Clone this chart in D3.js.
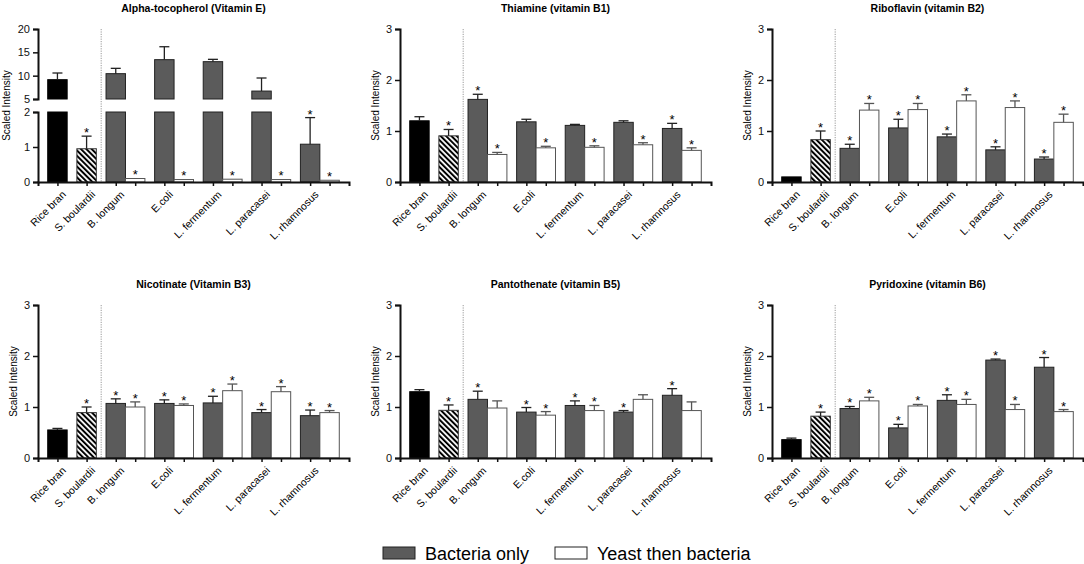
<!DOCTYPE html>
<html>
<head>
<meta charset="utf-8">
<script src="https://cdn.jsdelivr.net/npm/d3@7"></script>
<style>
    body { margin: 0; background: #fff; }
    svg { font-family: "Liberation Sans", Arial, sans-serif; }
    .axis path { stroke: #111; stroke-width: 2; }
    .axis line { stroke: #111; stroke-width: 1.5; }
    .axis text { font-size: 11px; fill: #111; }
    .title { font-size: 10.5px; font-weight: bold; text-anchor: middle; }
    .ylabel { font-size: 10px; text-anchor: middle; }
    .cat { font-size: 10.5px; }
    .star { font-size: 13px; text-anchor: middle; }
    .sep { stroke: #999; stroke-width: 1; stroke-dasharray: 1.2, 1.2; }
</style>
</head>
<body>
<svg id="chart"></svg>
<script>
/**********************************************
 *
 * vitamin panels
 *
 **********************************************/
const width = 1084
const height = 564

const groups = ["Rice bran", "S. boulardii", "B. longum", "E.coli", "L. fermentum", "L. paracasei", "L. rhamnosus"]
// bar order: rice bran, S. boulardii, then bacteria only / yeast then bacteria per strain
const barKind = ["rice", "yeast", "bact", "coc", "bact", "coc", "bact", "coc", "bact", "coc", "bact", "coc"]
const barGroup = [0, 1, 2, 2, 3, 3, 4, 4, 5, 5, 6, 6]
const yTicks = [0, 1, 2, 3]
const yTicksLow = [0, 1, 2]
const yTicksHigh = [5, 10, 15, 20]
const legendLabels = ["Bacteria only", "Yeast then bacteria"]
const titles = ["Alpha-tocopherol (Vitamin E)", "Thiamine (vitamin B1)", "Riboflavin (vitamin B2)",
    "Nicotinate (Vitamin B3)", "Pantothenate (vitamin B5)", "Pyridoxine (vitamin B6)"]

// rows: [mean, top of error bar, significant]
const vitE = [[9.14, 10.57, 0], [0.95, 1.31, 1], [10.43, 11.57, 0], [0.10, 0.11, 1], [13.43, 16.2, 0], [0.07, 0.08, 1],
    [13.0, 13.5, 0], [0.08, 0.09, 1], [6.7, 9.5, 0], [0.07, 0.08, 1], [1.08, 1.84, 1], [0.05, 0.06, 1]]
const vitB1 = [[1.20, 1.28, 0], [0.905, 1.03, 1], [1.62, 1.72, 1], [0.54, 0.58, 1], [1.18, 1.23, 0], [0.67, 0.70, 1],
    [1.11, 1.13, 0], [0.68, 0.71, 1], [1.17, 1.20, 0], [0.73, 0.77, 1], [1.05, 1.15, 1], [0.62, 0.67, 1]]
const vitB2 = [[0.10, 0.10, 0], [0.83, 1.0, 1], [0.66, 0.74, 1], [1.41, 1.54, 1], [1.06, 1.23, 1], [1.42, 1.54, 1],
    [0.885, 0.94, 1], [1.59, 1.71, 1], [0.63, 0.69, 1], [1.46, 1.59, 1], [0.45, 0.49, 1], [1.17, 1.33, 1]]
const vitB3 = [[0.55, 0.58, 0], [0.89, 1.0, 1], [1.07, 1.16, 1], [1.0, 1.10, 1], [1.07, 1.14, 1], [1.03, 1.06, 1],
    [1.08, 1.21, 1], [1.32, 1.45, 1], [0.89, 0.95, 1], [1.30, 1.40, 1], [0.83, 0.94, 1], [0.89, 0.93, 1]]
const vitB5 = [[1.30, 1.34, 0], [0.935, 1.04, 1], [1.15, 1.31, 1], [0.98, 1.12, 0], [0.90, 0.99, 1], [0.84, 0.91, 1],
    [1.03, 1.12, 1], [0.93, 1.03, 1], [0.90, 0.93, 1], [1.15, 1.24, 0], [1.23, 1.36, 1], [0.93, 1.10, 0]]
const vitB6 = [[0.36, 0.39, 0], [0.82, 0.90, 1], [0.97, 1.01, 1], [1.12, 1.19, 1], [0.59, 0.66, 1], [1.02, 1.05, 1],
    [1.13, 1.24, 1], [1.05, 1.15, 1], [1.92, 1.94, 1], [0.95, 1.05, 1], [1.78, 1.97, 1], [0.91, 0.95, 1]]

const panelData = [vitE, vitB1, vitB2, vitB3, vitB5, vitB6]

// layout
const plotW = 311
const colX = [38, 400, 772]
const rowY = [{ top: 29, bottom: 182 }, { top: 305, bottom: 458 }]
const fills = { rice: "#000", yeast: "url(#hatch)", bact: "#5b5b5b", coc: "#fff" }
const strokes = { rice: "#000", yeast: "#333", bact: "#222", coc: "#555" }

const chart = d3.select('#chart')
    .attr('width', width)
    .attr('height', height)

const defs = chart.append('defs')
const hatch = defs.append('pattern')
    .attr('id', 'hatch')
    .attr('patternUnits', 'userSpaceOnUse')
    .attr('width', 3.8)
    .attr('height', 3.8)
    .attr('patternTransform', 'rotate(-45)')
hatch.append('rect').attr('width', 3.8).attr('height', 3.8).attr('fill', '#fff')
hatch.append('rect').attr('width', 2).attr('height', 3.8).attr('fill', '#000')

// bar start in "bar widths": one per bar plus half a bar between groups
const barStart = i => 0.5 + i + barGroup[i] * 0.5

function drawPanel(p) {
    const rows = panelData[p]
    const left = colX[p % 3]
    const { top, bottom } = rowY[Math.floor(p / 3)]
    const g = chart.append('g').attr('transform', `translate(${left}, 0)`)
    const xScale = d3.scaleLinear().domain([0, 16]).range([0, plotW])

    // y scales; the first panel has a broken axis
    let segs
    if (p === 0) {
        segs = [
            { scale: d3.scaleLinear().domain([0, 2]).range([bottom, bottom - 70]), ticks: yTicksLow },
            { scale: d3.scaleLinear().domain([5, 20]).range([top + 70, top]), ticks: yTicksHigh }
        ]
    } else {
        segs = [{ scale: d3.scaleLinear().domain([0, 3]).range([bottom, top]), ticks: yTicks }]
    }

    // separator after the controls
    g.append('line').attr('class', 'sep')
        .attr('x1', xScale(3.25)).attr('x2', xScale(3.25))
        .attr('y1', top).attr('y2', bottom)

    // bars
    rows.forEach((r, i) => {
        const kind = barKind[i]
        const x0 = xScale(barStart(i))
        const bw = xScale(1) - xScale(0)
        const xc = x0 + bw / 2
        let errY, meanY
        segs.forEach(s => {
            const [d0, d1] = s.scale.domain()
            if (r[0] <= d0) return
            const v = Math.min(r[0], d1)
            g.append('rect')
                .attr('x', x0).attr('width', bw)
                .attr('y', s.scale(v)).attr('height', s.scale(d0) - s.scale(v))
                .attr('fill', fills[kind])
                .attr('stroke', strokes[kind])
                .attr('stroke-width', 1)
            if (r[0] <= d1) meanY = s.scale(r[0])
            if (r[1] > d0 && r[1] <= d1) errY = s.scale(r[1])
        })
        if (errY !== undefined && meanY - errY > 0.5) {
            const col = kind === 'coc' ? '#555' : '#222'
            g.append('line').attr('x1', xc).attr('x2', xc)
                .attr('y1', meanY).attr('y2', errY)
                .attr('stroke', col).attr('stroke-width', 1.3)
            g.append('line').attr('x1', xc - 5).attr('x2', xc + 5)
                .attr('y1', errY).attr('y2', errY)
                .attr('stroke', col).attr('stroke-width', 1.3)
        }
        if (r[2]) {
            g.append('text').attr('class', 'star')
                .attr('x', xc).attr('y', Math.min(errY, meanY) + 1)
                .text('*')
        }
    })

    // y axis
    segs.forEach(s => {
        g.append('g').attr('class', 'axis')
            .call(d3.axisLeft(s.scale).tickValues(s.ticks).tickFormat(d3.format('d'))
                .tickSizeOuter(0).tickSize(5).tickPadding(3))
    })

    // x axis with a tick under each bar
    const centers = barKind.map((k, i) => barStart(i) + 0.5)
    g.append('g').attr('class', 'axis')
        .attr('transform', `translate(0, ${bottom})`)
        .call(d3.axisBottom(xScale).tickValues(centers).tickFormat('').tickSizeOuter(0).tickSize(4))

    // category labels under the first bar of each group
    groups.forEach((name, k) => {
        const i = barGroup.indexOf(k)
        const x = xScale(barStart(i) + 0.5)
        g.append('g')
            .attr('transform', `translate(${x + 4}, ${bottom + 8}) rotate(-45)`)
            .append('text').attr('class', 'cat')
            .attr('text-anchor', 'end')
            .attr('dy', '0.7em')
            .text(name)
    })

    g.append('text').attr('class', 'ylabel')
        .attr('transform', `translate(${p === 0 ? -28 : -21}, ${(top + bottom) / 2}) rotate(-90)`)
        .text('Scaled Intensity')

    g.append('text').attr('class', 'title')
        .attr('x', plotW / 2).attr('y', top - 17)
        .text(titles[p])
}

d3.range(6).forEach(drawPanel)

// legend
const legend = chart.append('g').attr('transform', 'translate(383, 547)')
const legendX = [0, 172]
legendLabels.forEach((label, k) => {
    const item = legend.append('g').attr('transform', `translate(${legendX[k]}, 0)`)
    item.append('rect').attr('width', 32).attr('height', 12)
        .attr('fill', k === 0 ? fills.bact : fills.coc)
        .attr('stroke', '#222').attr('stroke-width', 1)
    item.append('text').attr('x', 42).attr('y', 12.5)
        .attr('font-size', '18px')
        .text(label)
})
</script>
</body>
</html>
